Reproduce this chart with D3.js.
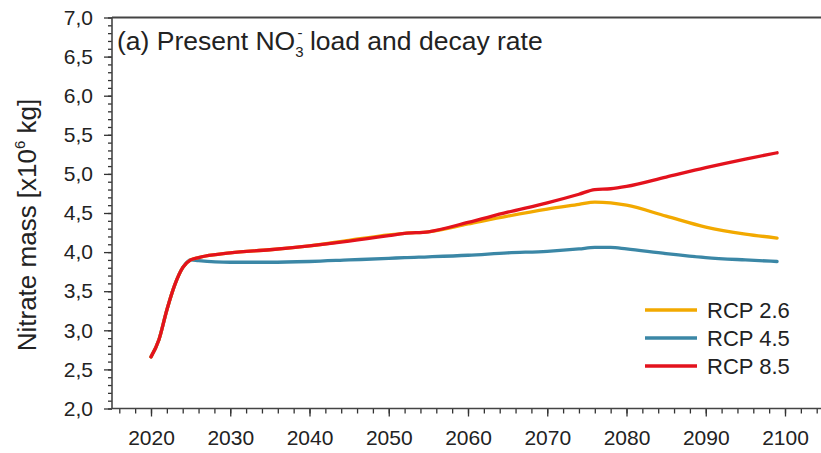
<!DOCTYPE html>
<html><head><meta charset="utf-8">
<script src="https://cdn.jsdelivr.net/npm/d3@7/dist/d3.min.js"></script>
<style>
body{margin:0;background:#fff;}
svg{display:block;font-family:"Liberation Sans",Arial,sans-serif;}
</style></head>
<body><svg id="c" width="821" height="453"></svg>
<script>
const years = [2020,2021,2022,2023,2024,2025,2026,2030,2035,2040,2045,2050,2052,2055,2060,2065,2070,2074,2076,2078,2080,2085,2090,2095,2099];
const rcp26 = [2.66,2.88,3.26,3.58,3.80,3.90,3.93,3.99,4.03,4.08,4.15,4.22,4.24,4.26,4.36,4.46,4.55,4.61,4.64,4.63,4.60,4.46,4.32,4.23,4.18];
const rcp45 = [2.66,2.88,3.26,3.58,3.80,3.90,3.89,3.87,3.87,3.88,3.90,3.92,3.93,3.94,3.96,3.99,4.01,4.04,4.06,4.06,4.04,3.98,3.93,3.90,3.88];
const rcp85 = [2.66,2.88,3.26,3.58,3.80,3.90,3.93,3.99,4.03,4.08,4.14,4.21,4.24,4.26,4.38,4.51,4.63,4.74,4.80,4.81,4.84,4.96,5.08,5.19,5.27];
const seriesNames = ["RCP 2.6","RCP 4.5","RCP 8.5"];
const seriesColors = ["#f2a900","#3b87a6","#e3121d"];
const yTicks = [2.0,2.5,3.0,3.5,4.0,4.5,5.0,5.5,6.0,6.5,7.0];
const xTicks = [2020,2030,2040,2050,2060,2070,2080,2090,2100];

const svg = d3.select("#c");
const mLeft = 112, mTop = 17.5, mBottom = 408.5;
const x = d3.scaleLinear().domain([2020,2100]).range([151,785]);
const y = d3.scaleLinear().domain([2,7]).range([mBottom,mTop]);
const xMin = x.invert(mLeft), xMax = x.invert(821);

const yMinor = d3.range(2,7.0001,0.1).map(v=>+v.toFixed(1));
const xMinor = d3.range(2016,2105,2);
const axCol = "#333";
const ff = "Liberation Sans, Arial, sans-serif";

const gy = svg.append("g").attr("transform",`translate(${mLeft},0)`);
gy.call(d3.axisLeft(y).tickValues(yMinor).tickSize(4).tickFormat(""));
gy.append("g").call(d3.axisLeft(y).tickValues(yTicks).tickSize(8).tickPadding(11)
  .tickFormat(d=>d3.format(".1f")(d).replace(".",",")));
gy.selectAll("path.domain").remove();
gy.selectAll("line").attr("stroke",axCol).attr("stroke-width",1.3);
gy.selectAll("text").attr("font-size",21).attr("fill","#222").attr("font-family",ff);

const gx = svg.append("g").attr("transform",`translate(0,${mBottom})`);
gx.call(d3.axisBottom(x).tickValues(xMinor.filter(v=>v>xMin&&v<xMax)).tickSize(5).tickFormat(""));
gx.append("g").call(d3.axisBottom(x).tickValues(xTicks).tickSize(8).tickPadding(14).tickFormat(d3.format("d")));
gx.selectAll("path.domain").remove();
gx.selectAll("line").attr("stroke",axCol).attr("stroke-width",1.3);
gx.selectAll("text").attr("font-size",21).attr("fill","#222").attr("font-family",ff);

svg.append("line").attr("x1",mLeft).attr("x2",821).attr("y1",mTop).attr("y2",mTop).attr("stroke","#444").attr("stroke-width",1.8);
svg.append("line").attr("x1",mLeft).attr("x2",821).attr("y1",mBottom).attr("y2",mBottom).attr("stroke","#444").attr("stroke-width",1.6);
svg.append("line").attr("x1",mLeft).attr("x2",mLeft).attr("y1",mTop).attr("y2",mBottom).attr("stroke","#444").attr("stroke-width",1.6);

const data = [rcp26, rcp45, rcp85];
const line = d3.line().x((d,i)=>x(years[i])).y(d=>y(d)).curve(d3.curveMonotoneX);
[1,0,2].forEach(k=>{
  svg.append("path").datum(data[k]).attr("d",line).attr("fill","none")
    .attr("stroke",seriesColors[k]).attr("stroke-width",3.3).attr("stroke-linejoin","round").attr("stroke-linecap","round");
});

seriesNames.forEach((n,i)=>{
  const ly = 310 + i*28;
  svg.append("line").attr("x1",645).attr("x2",697).attr("y1",ly).attr("y2",ly)
    .attr("stroke",seriesColors[i]).attr("stroke-width",3.5);
  svg.append("text").attr("x",707).attr("y",ly+8).attr("font-size",22).attr("fill","#222").attr("font-family",ff).text(n);
});

const t = svg.append("text").attr("x",117).attr("y",50).attr("font-size",26.5).attr("fill","#222").attr("font-family",ff);
t.append("tspan").text("(a) Present NO");
t.append("tspan").attr("font-size",15).attr("dy",7).text("3");
t.append("tspan").attr("font-size",15).attr("dx",-6).attr("dy",-19).text("-");
t.append("tspan").attr("dy",12).text(" load and decay rate");

const yl = svg.append("text").attr("transform","translate(36,225) rotate(-90)").attr("text-anchor","middle")
  .attr("font-size",26).attr("fill","#222").attr("font-family",ff);
yl.append("tspan").text("Nitrate mass [x10");
yl.append("tspan").attr("font-size",15).attr("dy",-11).text("6");
yl.append("tspan").attr("dy",11).text(" kg]");
</script></body></html>
